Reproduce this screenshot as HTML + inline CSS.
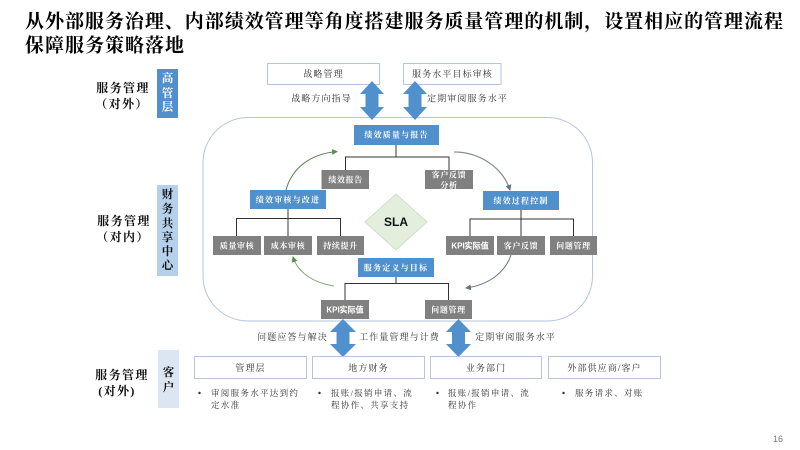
<!DOCTYPE html>
<html lang="zh">
<head>
<meta charset="utf-8">
<title>服务质量管理机制</title>
<style>
html,body{margin:0;padding:0;background:#fff;}
svg{display:block;filter:blur(0.35px);}
text{font-family:"Liberation Serif","Noto Serif CJK SC",serif;dominant-baseline:central;}
.t{font-size:19px;font-weight:700;fill:#000;}
.l{font-size:12px;font-weight:700;fill:#111;text-anchor:middle;letter-spacing:1.4px;}
.s{font-size:9px;fill:#333;text-anchor:middle;letter-spacing:1.1px;}
.w{font-size:8px;font-weight:700;fill:#fff;text-anchor:middle;letter-spacing:.6px;}
.k{font-family:"Liberation Sans",sans-serif;}
.wb{font-size:8px;font-weight:700;fill:#fff;text-anchor:middle;letter-spacing:1.2px;}
.b{font-size:8.5px;fill:#333;letter-spacing:1.3px;}
.v{font-size:11.5px;font-weight:700;text-anchor:middle;}
.box{fill:#fff;stroke:#b4c6dc;stroke-width:1;}
.blue{fill:#4f90cd;}
.gray{fill:#808080;}
.c{fill:none;stroke:#333;stroke-width:1;}
</style>
</head>
<body>
<svg width="800" height="450" viewBox="0 0 800 450" xmlns="http://www.w3.org/2000/svg">
<defs>
<marker id="g" markerWidth="7" markerHeight="7" refX="5" refY="3" orient="auto" markerUnits="userSpaceOnUse"><path d="M0 0L6 3L0 6Z" fill="#5f8f4f"/></marker>
<marker id="h" markerWidth="7" markerHeight="7" refX="5" refY="3" orient="auto" markerUnits="userSpaceOnUse"><path d="M0 0L6 3L0 6Z" fill="#67727d"/></marker>
</defs>
<rect width="800" height="450" fill="#fff"/>

<text class="t" x="25" y="22" textLength="758" lengthAdjust="spacing">从外部服务治理、内部绩效管理等角度搭建服务质量管理的机制，设置相应的管理流程</text>
<text class="t" x="25" y="46" textLength="159" lengthAdjust="spacing">保障服务策略落地</text>

<rect x="203" y="117.5" width="389.5" height="203.5" rx="45" ry="45" fill="#fff" stroke="#b3c6dc" stroke-width="1"/>

<rect class="box" x="267.5" y="63.5" width="112" height="21"/>
<text class="s" x="323.5" y="74">战略管理</text>
<rect class="box" x="403.5" y="63.5" width="97.5" height="21"/>
<text class="s" x="452.5" y="74">服务水平目标审核</text>

<path class="blue" d="M372 81L384 94H378.5V107H384L372 120L360 107H365.5V94H360Z"/>
<path class="blue" d="M415 81L427 94H421.5V107H427L415 120L403 107H408.5V94H403Z"/>
<path class="blue" d="M343 319L356 332H349.5V344H356L343 357L330 344H336.5V332H330Z"/>
<path class="blue" d="M458.5 319L471 332H465V344H471L458.5 357L446 344H452V332H446Z"/>

<text class="s" x="321.5" y="98.5">战略方向指导</text>
<text class="s" x="467.5" y="98.5">定期审阅服务水平</text>
<text class="s" x="292.5" y="337">问题应答与解决</text>
<text class="s" x="399.5" y="337">工作量管理与计费</text>
<text class="s" x="515.5" y="337">定期审阅服务水平</text>

<text class="l" x="123" y="88">服务管理</text>
<text class="l" x="122" y="104">（对外）</text>
<text class="l" x="124" y="221">服务管理</text>
<text class="l" x="123" y="237">（对内）</text>
<text class="l" x="122" y="375">服务管理</text>
<text class="l" x="117" y="391">(对外)</text>

<rect x="157" y="69" width="21" height="49" fill="#4f90cd"/>
<text class="v" x="167.5" y="79" fill="#fff">高</text>
<text class="v" x="167.5" y="94" fill="#fff">管</text>
<text class="v" x="167.5" y="107.5" fill="#fff">层</text>
<rect x="157" y="185" width="21" height="91" fill="#b5d0ea"/>
<text class="v" x="167.5" y="195" fill="#111">财</text>
<text class="v" x="167.5" y="209.500" fill="#111">务</text>
<text class="v" x="167.5" y="224" fill="#111">共</text>
<text class="v" x="167.5" y="238" fill="#111">享</text>
<text class="v" x="167.5" y="252" fill="#111">中</text>
<text class="v" x="167.5" y="266" fill="#111">心</text>
<rect x="158" y="350" width="21" height="58" fill="#dce6f2"/>
<text class="v" x="168.5" y="373" fill="#111">客</text>
<text class="v" x="168.5" y="388" fill="#111">户</text>

<path class="c" d="M396 145V157M345.5 170V157H449V170"/>
<path class="c" d="M288 209V236M236.5 236V218.5H340.5V236"/>
<path class="c" d="M521 210V236M470 236V219H573.5V236"/>
<path class="c" d="M396 277V283.5M345 300V283.5H448.5V300"/>

<rect class="blue" x="354" y="125" width="85" height="20"/>
<text class="wb" x="396.5" y="135">绩效质量与报告</text>
<rect class="blue" x="250" y="190" width="76" height="19"/>
<text class="wb" x="288" y="200">绩效审核与改进</text>
<rect class="blue" x="483" y="191" width="76" height="19"/>
<text class="wb" x="521" y="201">绩效过程控制</text>
<rect class="blue" x="358" y="258" width="76" height="19"/>
<text class="wb" x="396" y="268">服务定义与目标</text>

<rect class="gray" x="321.5" y="170" width="47.5" height="19"/>
<text class="w" x="345.5" y="180">绩效报告</text>
<rect class="gray" x="425" y="170" width="48" height="19"/>
<text class="w" x="449" y="175">客户反馈</text>
<text class="w" x="449" y="185.5">分析</text>

<rect class="gray" x="213" y="236" width="48" height="19"/>
<text class="w" x="237" y="246">质量审核</text>
<rect class="gray" x="264" y="236" width="48" height="19"/>
<text class="w" x="288" y="246">成本审核</text>
<rect class="gray" x="317" y="236" width="47" height="19"/>
<text class="w" x="340.5" y="246">持续提升</text>

<rect class="gray" x="446" y="236" width="48" height="19"/>
<text class="w k" x="470" y="246" style="letter-spacing:0">KPI实际值</text>
<rect class="gray" x="497" y="236" width="48" height="19"/>
<text class="w" x="521" y="246">客户反馈</text>
<rect class="gray" x="550" y="236" width="47" height="19"/>
<text class="w" x="573.5" y="246">问题管理</text>

<rect class="gray" x="321" y="300" width="48" height="19"/>
<text class="w k" x="345" y="310" style="letter-spacing:0">KPI实际值</text>
<rect class="gray" x="425" y="300" width="47" height="19"/>
<text class="w" x="448.5" y="310">问题管理</text>

<path d="M396 194L427 222L396 250L365 222Z" fill="#e3eedd" stroke="#cfdfc8" stroke-width="1"/>
<text x="396" y="222" text-anchor="middle" style="font-family:'Liberation Sans',sans-serif;font-size:12px;font-weight:700;fill:#111;">SLA</text>

<path d="M286 190C292 168 310 154 337 151.5" fill="none" stroke="#5f7f55" stroke-width="1" marker-end="url(#g)"/>
<path d="M454 152C480 152 503 168 510 190" fill="none" stroke="#8a8f94" stroke-width="1.3" marker-end="url(#h)"/>
<path d="M511 255C505 273 488 285 466 288" fill="none" stroke="#67727d" stroke-width="1" marker-end="url(#h)"/>
<path d="M334 286C314 283 298 273 293 257" fill="none" stroke="#7fa86d" stroke-width="1" marker-end="url(#g)"/>

<rect class="box" x="194.5" y="356.5" width="112" height="22"/>
<text class="s" x="250.5" y="368">管理层</text>
<rect class="box" x="312.5" y="356.5" width="112" height="22"/>
<text class="s" x="368.5" y="368">地方财务</text>
<rect class="box" x="430.5" y="356.5" width="111" height="22"/>
<text class="s" x="486" y="368">业务部门</text>
<rect class="box" x="548.5" y="356.5" width="112" height="22"/>
<text class="s" x="604.5" y="368">外部供应商/客户</text>

<circle cx="199.5" cy="393" r="1.2" fill="#333"/>
<text class="b" x="211" y="393">审阅服务水平达到约</text>
<text class="b" x="211" y="405">定水准</text>
<circle cx="319.5" cy="393" r="1.2" fill="#333"/>
<text class="b" x="331" y="393">报账/报销申请、流</text>
<text class="b" x="331" y="405">程协作、共享支持</text>
<circle cx="437.5" cy="393" r="1.2" fill="#333"/>
<text class="b" x="448" y="393">报账/报销申请、流</text>
<text class="b" x="448" y="405">程协作</text>
<circle cx="563.5" cy="393" r="1.2" fill="#333"/>
<text class="b" x="575" y="393">服务请求、对账</text>

<text x="778" y="439" text-anchor="middle" style="font-family:'Liberation Sans',sans-serif;font-size:9px;fill:#777;">16</text>
</svg>
</body>
</html>
